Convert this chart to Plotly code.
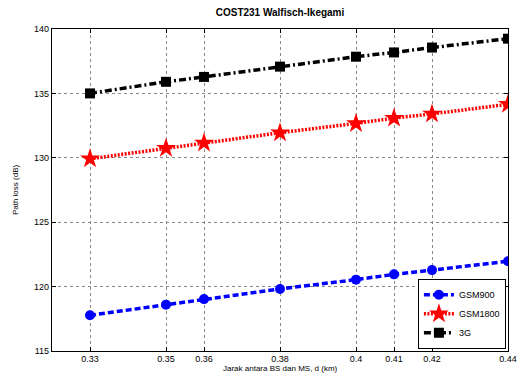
import plotly.graph_objects as go

distance_km = [0.33, 0.35, 0.36, 0.38, 0.40, 0.41, 0.42, 0.44]
gsm900 = [117.77, 118.6, 119.03, 119.82, 120.54, 120.95, 121.28, 121.97]
gsm1800 = [129.92, 130.74, 131.15, 131.95, 132.67, 133.08, 133.41, 134.15]
g3 = [135.0, 135.9, 136.28, 137.08, 137.85, 138.18, 138.56, 139.25]
x_tick_text = ["0.33", "0.35", "0.36", "0.38", "0.4", "0.41", "0.42", "0.44"]
y_ticks = [115, 120, 125, 130, 135, 140]

fig = go.Figure()
fig.add_trace(go.Scatter(x=distance_km, y=gsm900, name="GSM900", mode="lines+markers",
                         line=dict(color="#0000ff", width=3.5, dash="6px,3px"),
                         marker=dict(symbol="circle", size=10, color="#0000ff")))
fig.add_trace(go.Scatter(x=distance_km, y=gsm1800, name="GSM1800", mode="lines+markers",
                         line=dict(color="#ff0000", width=3.5, dash="2px,1.5px"),
                         marker=dict(symbol="star", size=15, color="#ff0000")))
fig.add_trace(go.Scatter(x=distance_km, y=g3, name="3G", mode="lines+markers",
                         line=dict(color="#000000", width=3.5, dash="7px,3px,2px,3px"),
                         marker=dict(symbol="square", size=10, color="#000000")))

axis_common = dict(showline=True, linecolor="black", linewidth=1.2, mirror="ticks",
                   ticks="inside", ticklen=4, tickcolor="black",
                   showgrid=True, gridcolor="#888888", griddash="dot", gridwidth=1,
                   zeroline=False, automargin=False,
                   tickfont=dict(family="Liberation Sans, Arial", size=9, color="black"))

fig.update_layout(
    width=532, height=374,
    margin=dict(l=52, r=24, t=29, b=23),
    paper_bgcolor="white", plot_bgcolor="white",
    title=dict(text="<b>COST231 Walfisch-Ikegami</b>", x=0.5, xref="paper", xanchor="center",
               y=1 - 12 / 374, yanchor="middle",
               font=dict(family="Liberation Sans, Arial", size=10, color="black")),
    xaxis=dict(range=[0.32, 0.44], tickvals=distance_km, ticktext=x_tick_text, ticklabelstandoff=-1,
               **axis_common),
    yaxis=dict(range=[115, 140], tickvals=y_ticks,
               title=dict(text="Path loss (dB)", standoff=14,
                          font=dict(family="Liberation Sans, Arial", size=8, color="black")),
               **axis_common),
    legend=dict(x=0.995, y=0.006, xanchor="right", yanchor="bottom",
                bgcolor="white", bordercolor="black", borderwidth=1.2,
                font=dict(family="Liberation Sans, Arial", size=9, color="black"),
                itemwidth=30, tracegroupgap=0),
    showlegend=True,
)
fig.add_annotation(text="Jarak antara BS dan MS, d (km)", xref="paper", yref="paper",
                   x=0.5, y=-23 / 322, xanchor="center", yanchor="bottom", showarrow=False,
                   borderpad=0, font=dict(family="Liberation Sans, Arial", size=8, color="black"))

fig.write_html("out.html")
